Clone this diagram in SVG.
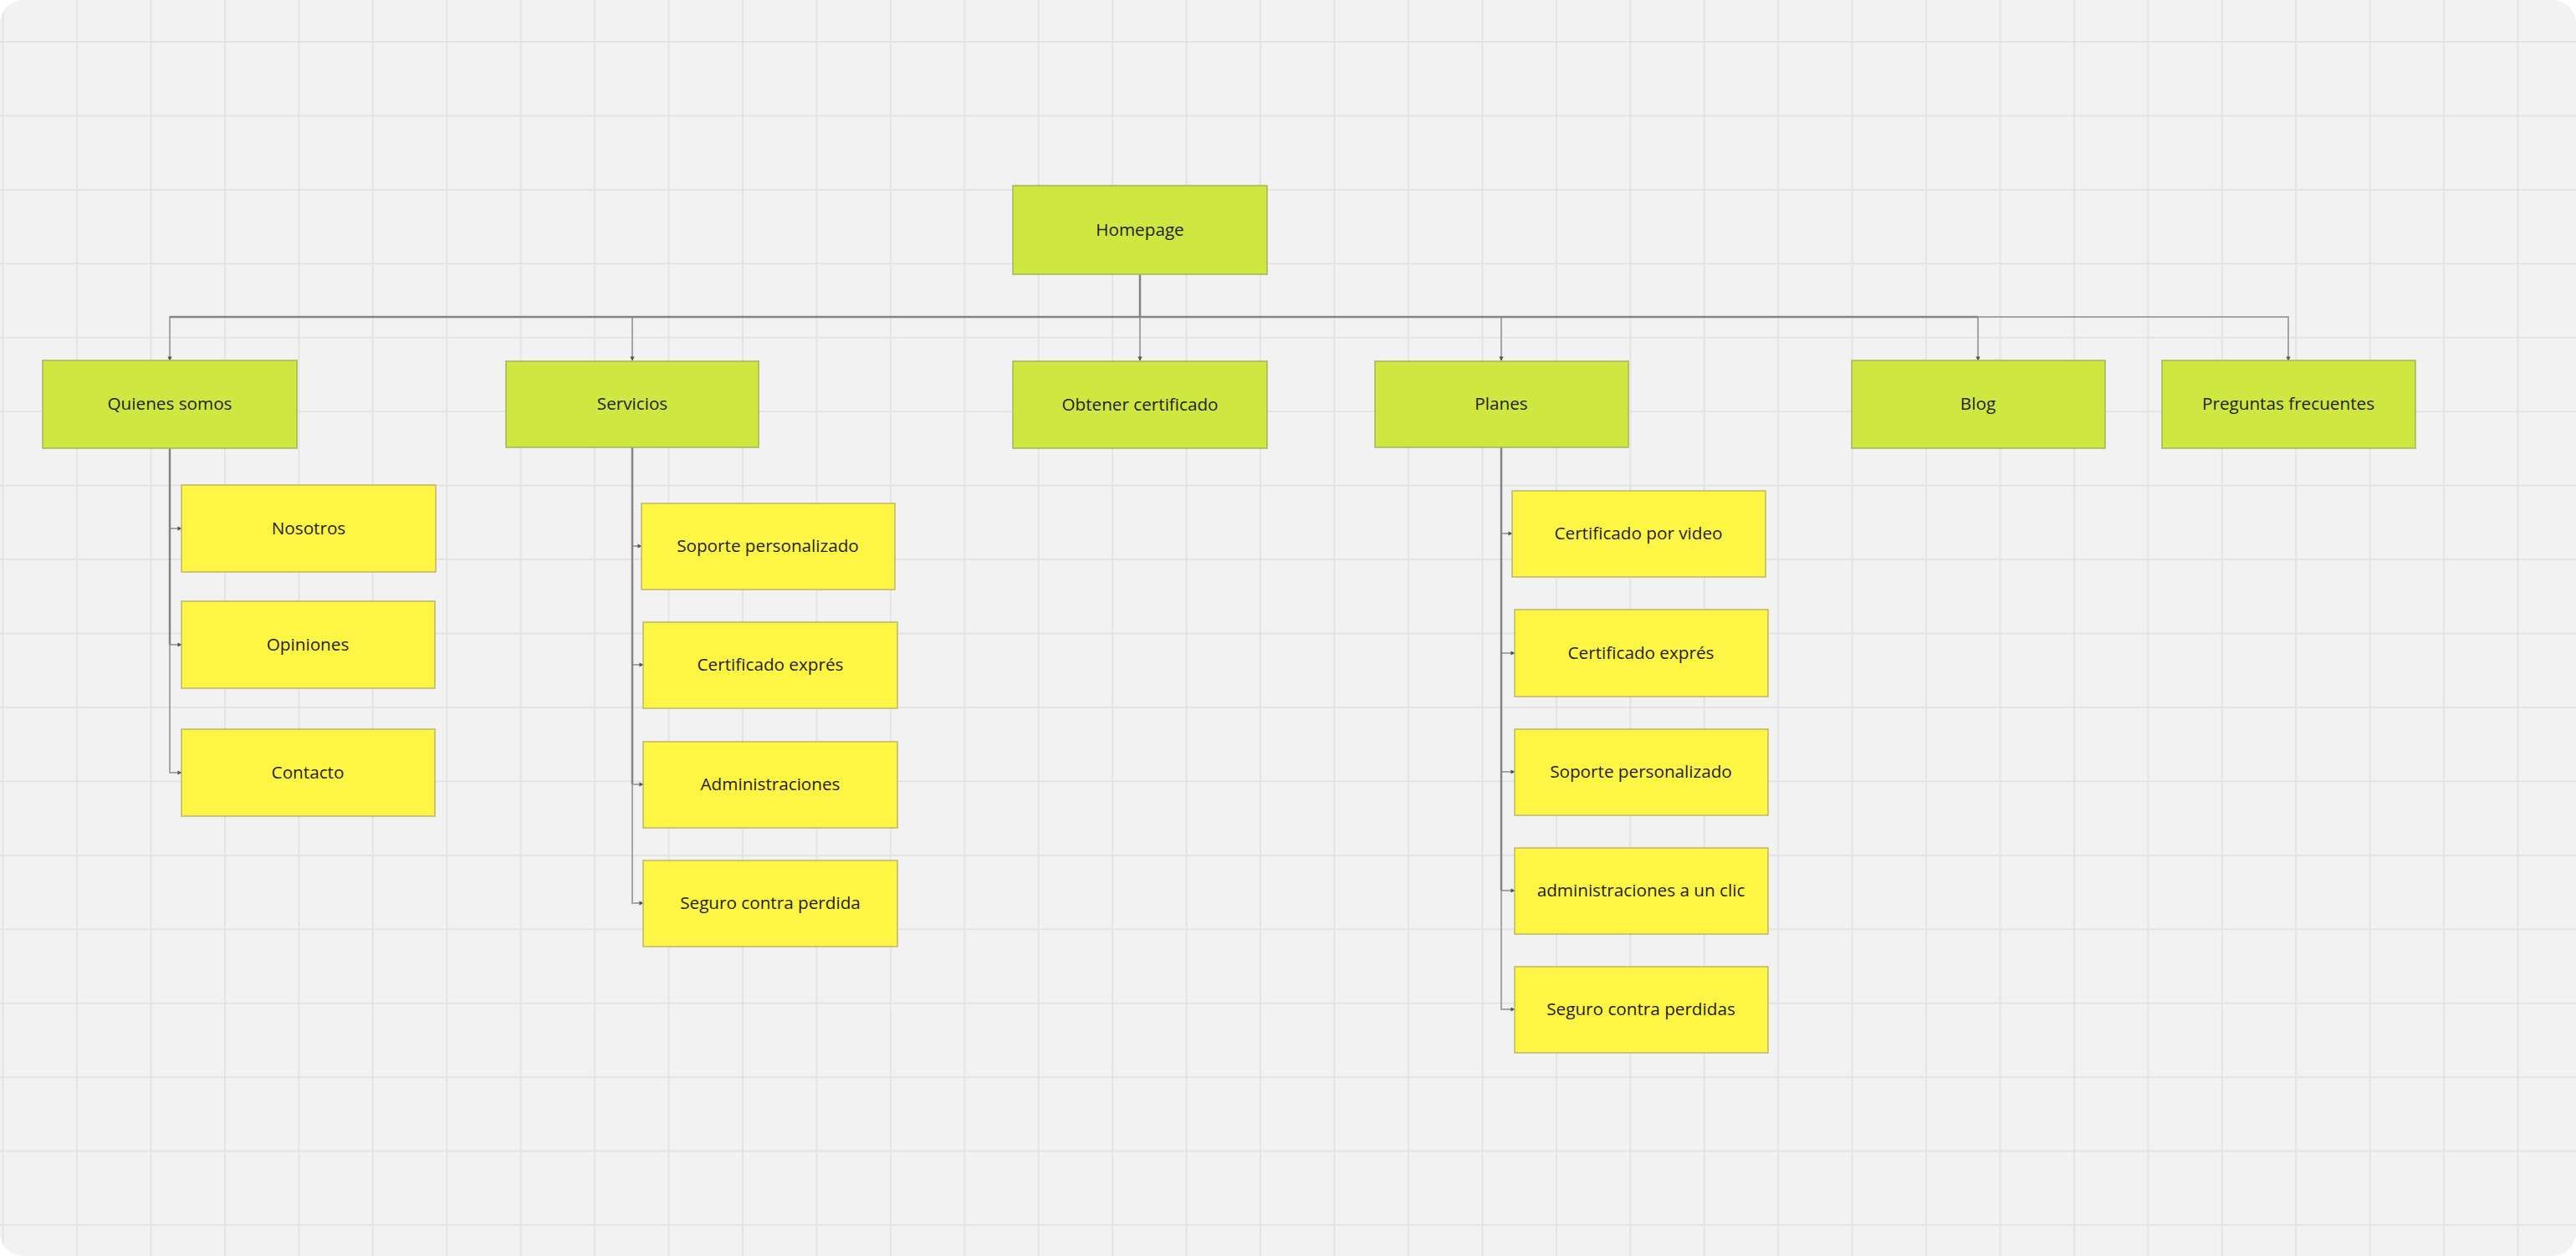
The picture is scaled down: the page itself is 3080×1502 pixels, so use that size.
<svg xmlns="http://www.w3.org/2000/svg" width="3080" height="1502" viewBox="0 0 3080 1502">
<defs>
<style>
.top{fill:#cee741;stroke:#a9b35a;stroke-width:1.5}
.sub{fill:#fff545;stroke:#bdb66a;stroke-width:1.5}
.lbl{font-family:"Open Sans","Noto Sans","Liberation Sans",sans-serif;font-size:20.7px;fill:#1f1f1a;text-anchor:middle}
.cn{fill:none;stroke:#a5a5a5;stroke-width:2}
.trunk{fill:none;stroke:#858585;stroke-width:2.5}
</style>
<pattern id="grid" x="2.6" y="49" width="88.44" height="88.44" patternUnits="userSpaceOnUse">
<path d="M1 0V88.44M0 1H88.44" stroke="#e4e4e4" stroke-width="2" fill="none"/>
</pattern>
<marker id="ah" viewBox="0 0 8 8" refX="7" refY="4" markerWidth="2.6" markerHeight="2.6" orient="auto">
<path d="M0 0L8 4L0 8z" fill="#555"/>
</marker>
</defs>
<rect x="0" y="0" width="3080" height="1502" fill="#ffffff"/>
<rect x="0" y="0" width="3080" height="1502" rx="28" fill="#f2f2f2"/>
<rect x="0" y="0" width="3080" height="1502" rx="28" fill="url(#grid)"/>

<g id="connectors">
<path class="cn" d="M1363 328V379H203V431" marker-end="url(#ah)"/>
<path class="cn" d="M1363 328V379H756V431" marker-end="url(#ah)"/>
<path class="cn" d="M1363 328V431" marker-end="url(#ah)"/>
<path class="cn" d="M1363 328V379H1795V431" marker-end="url(#ah)"/>
<path class="cn" d="M1363 328V379H2365V431" marker-end="url(#ah)"/>
<path class="cn" d="M1363 328V379H2736V431" marker-end="url(#ah)"/>
<path class="trunk" d="M1363 328V379M203 379H2365"/>
<path class="cn" d="M203 536V632H217" marker-end="url(#ah)"/>
<path class="cn" d="M203 536V771H217" marker-end="url(#ah)"/>
<path class="cn" d="M203 536V924H217" marker-end="url(#ah)"/>
<path class="trunk" d="M203 536V771"/>
<path class="cn" d="M756 534V653H767" marker-end="url(#ah)"/>
<path class="cn" d="M756 534V795H769" marker-end="url(#ah)"/>
<path class="cn" d="M756 534V938H769" marker-end="url(#ah)"/>
<path class="cn" d="M756 534V1080H769" marker-end="url(#ah)"/>
<path class="trunk" d="M756 534V938"/>
<path class="cn" d="M1795 535V638H1808" marker-end="url(#ah)"/>
<path class="cn" d="M1795 535V781H1811" marker-end="url(#ah)"/>
<path class="cn" d="M1795 535V923H1811" marker-end="url(#ah)"/>
<path class="cn" d="M1795 535V1065H1811" marker-end="url(#ah)"/>
<path class="cn" d="M1795 535V1207H1811" marker-end="url(#ah)"/>
<path class="trunk" d="M1795 535V1065"/>
</g>

<g id="homepage"><rect class="top" x="1211" y="222" width="304" height="106"/><text class="lbl" x="1363" y="282">Homepage</text></g>

<g id="quienes-somos"><rect class="top" x="51" y="431" width="304" height="105"/><text class="lbl" x="203" y="490">Quienes somos</text></g>
<g id="servicios"><rect class="top" x="605" y="432" width="302" height="103"/><text class="lbl" x="756" y="490">Servicios</text></g>
<g id="obtener-certificado"><rect class="top" x="1211" y="432" width="304" height="104"/><text class="lbl" x="1363" y="491">Obtener certificado</text></g>
<g id="planes"><rect class="top" x="1644" y="432" width="303" height="103"/><text class="lbl" x="1795" y="490">Planes</text></g>
<g id="blog"><rect class="top" x="2214" y="431" width="303" height="105"/><text class="lbl" x="2365" y="490">Blog</text></g>
<g id="preguntas-frecuentes"><rect class="top" x="2585" y="431" width="303" height="105"/><text class="lbl" x="2736" y="490">Preguntas frecuentes</text></g>

<g id="nosotros"><rect class="sub" x="217" y="580" width="304" height="104"/><text class="lbl" x="369" y="639">Nosotros</text></g>
<g id="opiniones"><rect class="sub" x="217" y="719" width="303" height="104"/><text class="lbl" x="368" y="778">Opiniones</text></g>
<g id="contacto"><rect class="sub" x="217" y="872" width="303" height="104"/><text class="lbl" x="368" y="931">Contacto</text></g>

<g id="serv-soporte"><rect class="sub" x="767" y="602" width="303" height="103"/><text class="lbl" x="918" y="660">Soporte personalizado</text></g>
<g id="serv-certificado"><rect class="sub" x="769" y="744" width="304" height="103"/><text class="lbl" x="921" y="802">Certificado exprés</text></g>
<g id="serv-administraciones"><rect class="sub" x="769" y="887" width="304" height="103"/><text class="lbl" x="921" y="945">Administraciones</text></g>
<g id="serv-seguro"><rect class="sub" x="769" y="1029" width="304" height="103"/><text class="lbl" x="921" y="1087">Seguro contra perdida</text></g>

<g id="plan-video"><rect class="sub" x="1808" y="587" width="303" height="103"/><text class="lbl" x="1959" y="645">Certificado por video</text></g>
<g id="plan-expres"><rect class="sub" x="1811" y="729" width="303" height="104"/><text class="lbl" x="1962" y="788">Certificado exprés</text></g>
<g id="plan-soporte"><rect class="sub" x="1811" y="872" width="303" height="103"/><text class="lbl" x="1962" y="930">Soporte personalizado</text></g>
<g id="plan-administraciones"><rect class="sub" x="1811" y="1014" width="303" height="103"/><text class="lbl" x="1962" y="1072">administraciones a un clic</text></g>
<g id="plan-seguro"><rect class="sub" x="1811" y="1156" width="303" height="103"/><text class="lbl" x="1962" y="1214">Seguro contra perdidas</text></g>
</svg>
